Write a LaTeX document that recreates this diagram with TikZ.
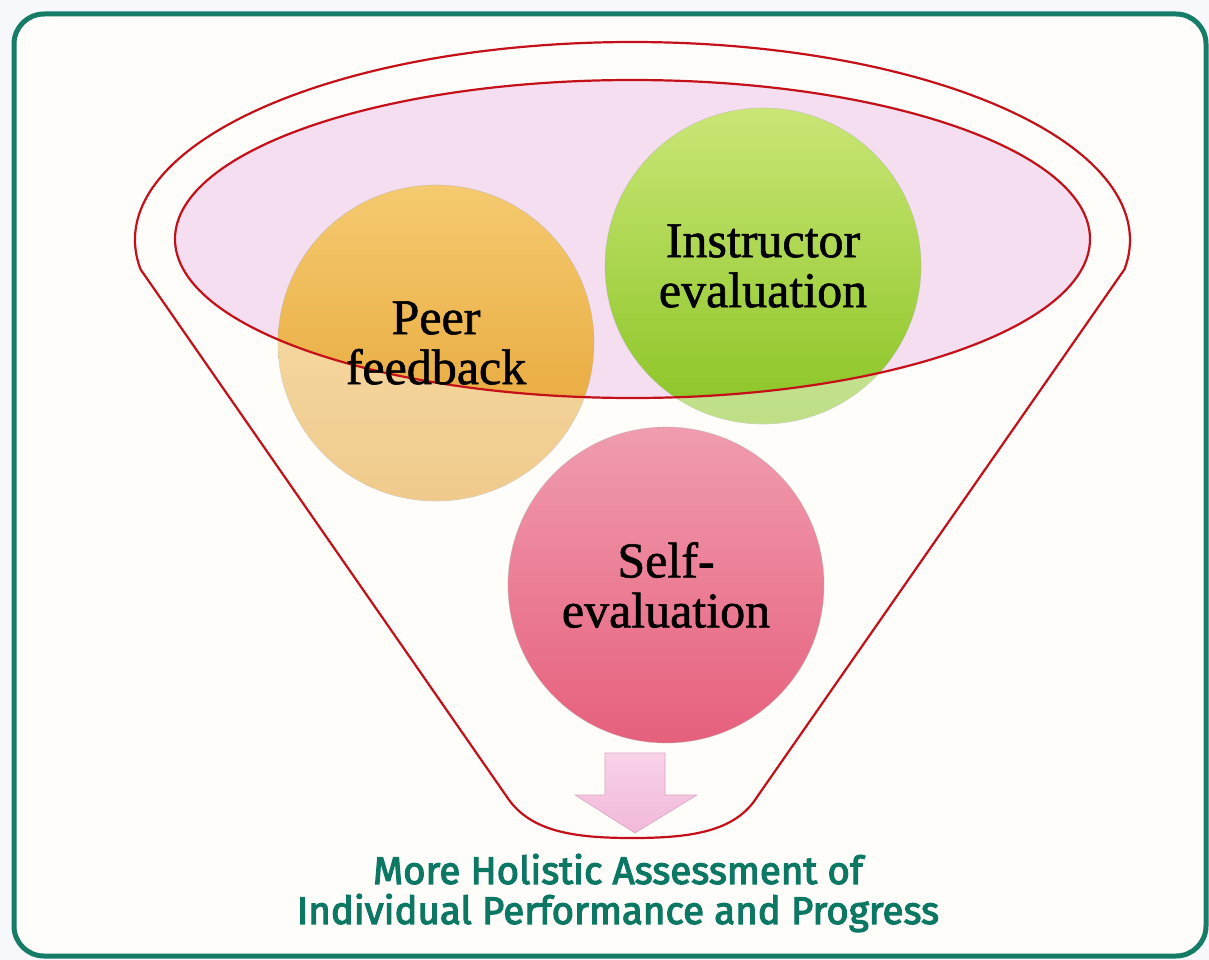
\documentclass[tikz,border=0pt]{standalone}
\usepackage{fontspec}
\setmainfont{Liberation Serif}
\newfontfamily\ballfont{Liberation Serif}[FakeBold=1.2]
\newfontfamily\capfont{Fira Sans}[FakeBold=3]
\definecolor{pagebg}{RGB}{247,248,252}
\definecolor{cardbg}{RGB}{254,253,249}
\definecolor{framecol}{RGB}{22,124,104}
\definecolor{funnelred}{RGB}{196,16,24}
\definecolor{mouthpink}{RGB}{244,222,240}
\definecolor{peertop}{RGB}{245,202,112}
\definecolor{peerbot}{RGB}{228,160,46}
\definecolor{instrtop}{RGB}{202,230,118}
\definecolor{instrbot}{RGB}{138,196,36}
\definecolor{selftop}{RGB}{240,156,175}
\definecolor{selfbot}{RGB}{230,96,124}
\definecolor{arrowtop}{RGB}{248,210,232}
\definecolor{arrowbot}{RGB}{242,184,216}
\definecolor{captioncol}{RGB}{12,120,100}
\tikzset{
  ball/.style={circle, minimum size=316pt, inner sep=0pt, draw=black!30, line width=0.6pt, draw opacity=0.5},
  balltext/.style={align=center, font=\ballfont\fontsize{50}{50}\selectfont, text=black},
  funnelline/.style={draw=funnelred, line width=2.2pt, line join=round},
  captext/.style={align=center, font=\capfont\fontsize{38.5}{40}\selectfont, text=captioncol}
}
\begin{document}
\begin{tikzpicture}[x=1pt,y=-1pt]
\useasboundingbox (0,0) rectangle (1209,960);
\fill[pagebg] (0,0) rectangle (1209,960);
% card with rounded teal frame
\draw[framecol, line width=5pt, rounded corners=30pt, fill=cardbg] (14,14) rectangle (1206,956);

% mouth of the funnel
\fill[mouthpink] (632.5,239) ellipse [x radius=457.5, y radius=159];

% upper two balls
\node[ball, top color=peertop, bottom color=peerbot] (peer) at (436,343) {};
\node[ball, top color=instrtop, bottom color=instrbot] (instr) at (763,266) {};

% funnel body washes out the parts of the balls below the mouth
\begin{scope}
  \clip (436,343) circle [radius=158];
  \fill[white, opacity=0.45, even odd rule] (0,0) rectangle (1209,960)
    (632.5,239) ellipse [x radius=457.5, y radius=159];
\end{scope}
\begin{scope}
  \clip (763,266) circle [radius=158];
  \fill[white, opacity=0.45, even odd rule] (0,0) rectangle (1209,960)
    (632.5,239) ellipse [x radius=457.5, y radius=159];
\end{scope}

% funnel outlines
\draw[funnelline] (632.5,239) ellipse [x radius=457.5, y radius=159];
\draw[funnelline] ({632.5+497.5*cos(171.5)},{240+198*sin(171.5)})
  arc[start angle=171.5, end angle=368.5, x radius=497.5, y radius=198]
  -- (757,797) .. controls (735,832) and (690,838) .. (632,838)
  .. controls (575,838) and (530,832) .. (507,797) -- cycle;

% lower ball
\node[ball, top color=selftop, bottom color=selfbot] (self) at (666,585) {};

% ball captions
\node[balltext] (peerlbl) at (peer) {Peer\\feedback};
\node[balltext] (instrlbl) at (instr) {Instructor\\evaluation};
\node[balltext] (selflbl) at (self) {Self-\\evaluation};

% outlet arrow
\draw[top color=arrowtop, bottom color=arrowbot, draw=arrowbot!90!black, line width=0.6pt, line join=round]
  (605,753) -- (665,753) -- (665,795) -- (697,795) -- (635,833) -- (575,795) -- (605,795) -- cycle;

% result
\node[captext] (caption) at (618,893) {More Holistic Assessment of\\Individual Performance and Progress};
\end{tikzpicture}
\end{document}
